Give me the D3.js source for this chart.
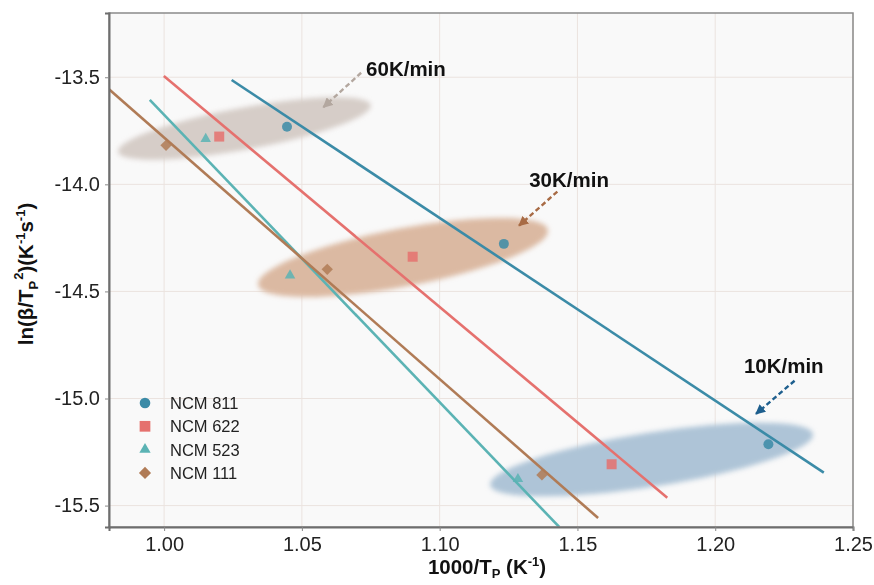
<!DOCTYPE html>
<html>
<head>
<meta charset="utf-8">
<script src="https://cdn.jsdelivr.net/npm/d3@7"></script>
<style>
  body { margin: 0; background: #fff; font-family: "Liberation Sans", Arial, sans-serif; }
  .axis text { font-family: "Liberation Sans", Arial, sans-serif; fill: #222; }
</style>
</head>
<body>
<div id="chart"></div>
<script>
// series
var seriesNames = ["NCM 811", "NCM 622", "NCM 523", "NCM 111"];
var seriesColors = ["#3b8ba7", "#e5716e", "#5bb3b4", "#b07b56"];

// measured points (1000/Tp, ln(beta/Tp^2)) : 60, 30, 10 K/min
var ncm811X = [1.0446, 1.1233, 1.2193], ncm811Y = [-13.731, -14.278, -15.214];
var ncm622X = [1.0200, 1.0902, 1.1624], ncm622Y = [-13.777, -14.338, -15.307];
var ncm523X = [1.0151, 1.0457, 1.1284], ncm523Y = [-13.788, -14.425, -15.376];
var ncm111X = [1.0007, 1.0592, 1.1371], ncm111Y = [-13.818, -14.397, -15.357];

// fitted lines: [x0, y0, x1, y1]
var fit811 = [1.0245, -13.513, 1.2394, -15.346];
var fit622 = [0.9999, -13.494, 1.1826, -15.463];
var fit523 = [0.9948, -13.606, 1.1434, -15.600];
var fit111 = [0.9800, -13.556, 1.1575, -15.558];

var xTicks = [1.00, 1.05, 1.10, 1.15, 1.20, 1.25];
var yTicks = [-13.5, -14.0, -14.5, -15.0, -15.5];

// heating-rate groups
var rateLabels = ["60K/min", "30K/min", "10K/min"];
var rateEllipseEnds = [[0.9833, -13.849, 1.0750, -13.630],
                       [1.0341, -14.470, 1.1393, -14.213],
                       [1.1183, -15.404, 1.2355, -15.166]];
var rateTextPos = [[1.0733, -13.494], [1.1325, -14.014], [1.2104, -14.882]];
var rateArrows = [[1.0715, -13.479, 1.0578, -13.640],
                  [1.1427, -14.034, 1.1288, -14.193],
                  [1.2288, -14.917, 1.2148, -15.072]];

var width = 874, height = 585;
var margin = {top: 13, right: 21, bottom: 58, left: 109};
var ellipseFill = ["#d6cdc8", "#dbb9a2", "#aec4d7"];
var ellipseHalf = [21, 29, 27];
var arrowColor = ["#b3a79f", "#a86b45", "#1e5f8e"];

var points = [
  {name: seriesNames[0], xs: ncm811X, ys: ncm811Y, fit: fit811, symbol: d3.symbolCircle, size: 78, rot: 0},
  {name: seriesNames[1], xs: ncm622X, ys: ncm622Y, fit: fit622, symbol: d3.symbolSquare, size: 100, rot: 0},
  {name: seriesNames[2], xs: ncm523X, ys: ncm523Y, fit: fit523, symbol: d3.symbolTriangle, size: 48, rot: 0},
  {name: seriesNames[3], xs: ncm111X, ys: ncm111Y, fit: fit111, symbol: d3.symbolSquare, size: 64, rot: 45}
];

var x = d3.scaleLinear().domain([0.98, 1.25]).range([margin.left, width - margin.right]);
var y = d3.scaleLinear().domain([-13.2, -15.6]).range([margin.top, height - margin.bottom]);

var svg = d3.select("#chart").append("svg")
    .attr("width", width)
    .attr("height", height);

var defs = svg.append("defs");
defs.append("clipPath").attr("id", "clip")
  .append("rect")
    .attr("x", x.range()[0]).attr("y", y.range()[0])
    .attr("width", x.range()[1] - x.range()[0])
    .attr("height", y.range()[1] - y.range()[0]);
defs.append("filter").attr("id", "blur")
    .attr("x", "-20%").attr("y", "-50%").attr("width", "140%").attr("height", "200%")
  .append("feGaussianBlur").attr("stdDeviation", 2.8);
arrowColor.forEach(function (c, i) {
  defs.append("marker")
      .attr("id", "arrow" + i)
      .attr("viewBox", "0 0 10 10")
      .attr("refX", 9).attr("refY", 5)
      .attr("markerWidth", 4.2).attr("markerHeight", 4.2)
      .attr("markerUnits", "strokeWidth")
      .attr("orient", "auto")
    .append("path")
      .attr("d", "M0,0 L10,5 L0,10 z")
      .attr("fill", c);
});

// plot background
svg.append("rect")
    .attr("x", x.range()[0]).attr("y", y.range()[0])
    .attr("width", x.range()[1] - x.range()[0])
    .attr("height", y.range()[1] - y.range()[0])
    .attr("fill", "#f9f9f9");

// grid
var grid = svg.append("g").attr("class", "grid");
grid.selectAll("line.gx").data(xTicks).enter().append("line")
    .attr("x1", function (d) { return x(d); }).attr("x2", function (d) { return x(d); })
    .attr("y1", y.range()[0]).attr("y2", y.range()[1])
    .attr("stroke", "#ebe3df").attr("stroke-width", 1);
grid.selectAll("line.gy").data(yTicks).enter().append("line")
    .attr("y1", function (d) { return y(d); }).attr("y2", function (d) { return y(d); })
    .attr("x1", x.range()[0]).attr("x2", x.range()[1])
    .attr("stroke", "#ebe3df").attr("stroke-width", 1);

var plot = svg.append("g").attr("clip-path", "url(#clip)");

// shaded ellipses for each heating rate
plot.append("g").attr("filter", "url(#blur)")
  .selectAll("ellipse").data(rateEllipseEnds).enter().append("ellipse")
    .attr("transform", function (d) {
      var x0 = x(d[0]), y0 = y(d[1]), x1 = x(d[2]), y1 = y(d[3]);
      var ang = Math.atan2(y1 - y0, x1 - x0) * 180 / Math.PI;
      return "translate(" + ((x0 + x1) / 2) + "," + ((y0 + y1) / 2) + ") rotate(" + ang + ")";
    })
    .attr("rx", function (d) {
      return Math.hypot(x(d[2]) - x(d[0]), y(d[3]) - y(d[1])) / 2;
    })
    .attr("ry", function (d, i) { return ellipseHalf[i]; })
    .attr("fill", function (d, i) { return ellipseFill[i]; });

// fitted lines
plot.selectAll("line.fit").data(points).enter().append("line")
    .attr("class", "fit")
    .attr("x1", function (d) { return x(d.fit[0]); })
    .attr("y1", function (d) { return y(d.fit[1]); })
    .attr("x2", function (d) { return x(d.fit[2]); })
    .attr("y2", function (d) { return y(d.fit[3]); })
    .attr("stroke", function (d, i) { return seriesColors[i]; })
    .attr("stroke-width", 2.6);

// markers
points.forEach(function (s, i) {
  plot.selectAll("path.m" + i).data(s.xs).enter().append("path")
      .attr("class", "m" + i)
      .attr("d", d3.symbol().type(s.symbol).size(s.size))
      .attr("transform", function (d, j) {
        return "translate(" + x(d) + "," + y(s.ys[j]) + ") rotate(" + s.rot + ")";
      })
      .attr("fill", seriesColors[i])
      .attr("fill-opacity", 0.85);
});

// frame
svg.append("rect")
    .attr("x", x.range()[0]).attr("y", y.range()[0])
    .attr("width", x.range()[1] - x.range()[0])
    .attr("height", y.range()[1] - y.range()[0])
    .attr("fill", "none")
    .attr("stroke", "#8a8a8a").attr("stroke-width", 1.5);

// axes
var xAxis = svg.append("g").attr("class", "axis")
    .attr("transform", "translate(0," + y.range()[1] + ")")
    .call(d3.axisBottom(x).tickValues(xTicks).tickSize(4).tickPadding(6)
      .tickFormat(function (d) { return d.toFixed(2); }));
var yAxis = svg.append("g").attr("class", "axis")
    .attr("transform", "translate(" + x.range()[0] + ",0)")
    .call(d3.axisLeft(y).tickValues(yTicks).tickSize(4).tickPadding(5)
      .tickFormat(function (d) { return d.toFixed(1); }));
[xAxis, yAxis].forEach(function (a) {
  a.select(".domain").attr("stroke", "#6e6e6e").attr("stroke-width", 2);
  a.selectAll(".tick line").attr("stroke", "#888");
  a.selectAll(".tick text").attr("font-size", "20px");
});

// axis titles
var xt = svg.append("text")
    .attr("x", 487).attr("y", 574)
    .attr("text-anchor", "middle")
    .attr("font-size", "20.5px").attr("font-weight", "bold").attr("fill", "#111");
xt.append("tspan").text("1000/T");
xt.append("tspan").text("P").attr("font-size", "13px").attr("dy", 4);
xt.append("tspan").text(" (K").attr("dy", -4);
xt.append("tspan").text("-1").attr("font-size", "13px").attr("dy", -8);
xt.append("tspan").text(")").attr("dy", 8);

var yt = svg.append("text")
    .attr("transform", "translate(33,274) rotate(-90)")
    .attr("text-anchor", "middle")
    .attr("font-size", "20.5px").attr("font-weight", "bold").attr("fill", "#111");
yt.append("tspan").text("ln(β/T");
yt.append("tspan").text("P").attr("font-size", "13px").attr("dy", 5);
yt.append("tspan").text("2").attr("font-size", "13px").attr("dy", -15).attr("dx", 1);
yt.append("tspan").text(")(K").attr("dy", 10);
yt.append("tspan").text("-1").attr("font-size", "13px").attr("dy", -8);
yt.append("tspan").text("s").attr("dy", 8);
yt.append("tspan").text("-1").attr("font-size", "13px").attr("dy", -8);
yt.append("tspan").text(")").attr("dy", 8);

// heating rate annotations
svg.selectAll("line.arrow").data(rateArrows).enter().append("line")
    .attr("class", "arrow")
    .attr("x1", function (d) { return x(d[0]); })
    .attr("y1", function (d) { return y(d[1]); })
    .attr("x2", function (d) { return x(d[2]); })
    .attr("y2", function (d) { return y(d[3]); })
    .attr("stroke", function (d, i) { return arrowColor[i]; })
    .attr("stroke-width", 2.4)
    .attr("stroke-dasharray", "5,3")
    .attr("marker-end", function (d, i) { return "url(#arrow" + i + ")"; });
svg.selectAll("text.rate").data(rateLabels).enter().append("text")
    .attr("class", "rate")
    .attr("x", function (d, i) { return x(rateTextPos[i][0]); })
    .attr("y", function (d, i) { return y(rateTextPos[i][1]); })
    .attr("font-size", "20.5px").attr("font-weight", "bold").attr("fill", "#111")
    .text(function (d) { return d; });

// legend
var legend = svg.append("g").attr("transform", "translate(145,403)");
var rows = legend.selectAll("g").data(points).enter().append("g")
    .attr("transform", function (d, i) { return "translate(0," + (i * 23.3) + ")"; });
rows.append("path")
    .attr("d", function (d) { return d3.symbol().type(d.symbol).size(d.size * 1.15)(); })
    .attr("transform", function (d) { return "rotate(" + d.rot + ")"; })
    .attr("fill", function (d, i) { return seriesColors[i]; });
rows.append("text")
    .attr("x", 25).attr("y", 6)
    .attr("font-size", "16.5px").attr("fill", "#222")
    .text(function (d) { return d.name; });
</script>
</body>
</html>
